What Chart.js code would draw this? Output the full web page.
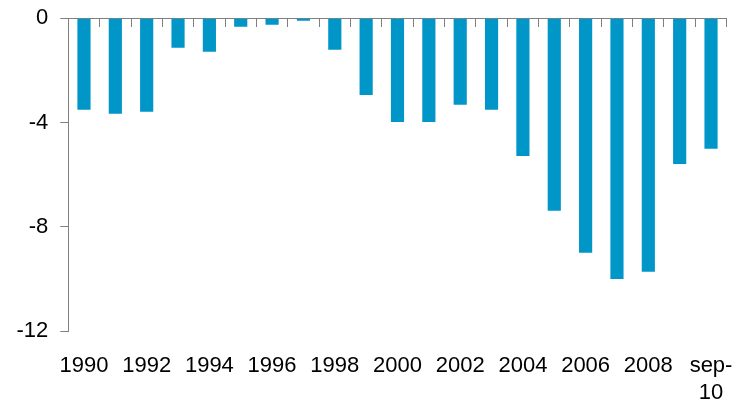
<!DOCTYPE html>
<html>
<head>
<meta charset="utf-8">
<script src="https://cdn.jsdelivr.net/npm/chart.js@4/dist/chart.umd.min.js"></script>
<style>
  html, body { margin: 0; padding: 0; background: #ffffff; }
  #wrap { width: 738px; height: 407px; }
</style>
</head>
<body>
<div id="wrap"><canvas id="c"></canvas></div>
<script>
// Yearly balance, 1990 to September 2010
const categories = ['1990','1991','1992','1993','1994','1995','1996','1997','1998','1999',
                    '2000','2001','2002','2003','2004','2005','2006','2007','2008','2009','sep-10'];
const values = [-3.51, -3.66, -3.59, -1.13, -1.28, -0.32, -0.25, -0.09, -1.21, -2.94,
                -3.98, -3.98, -3.32, -3.51, -5.28, -7.39, -9.00, -10.0, -9.73, -5.59, -5.01];
// Only every second year is labelled; the last period is split over two lines
const xTickLabels = ['1990','','1992','','1994','','1996','','1998','',
                     '2000','','2002','','2004','','2006','','2008','',['sep-','10']];
const yMin = -12;
const yMax = 0;
const yStep = 4;

const axisGrey = '#808080';
const barBlue = '#0096c8';
const labelFont = { family: "'Liberation Sans', Arial, sans-serif", size: 22, lineHeight: 1.2 };

new Chart(document.getElementById('c'), {
  type: 'bar',
  data: {
    labels: categories,
    datasets: [{
      data: values,
      backgroundColor: barBlue,
      borderWidth: 0,
      barPercentage: 0.42,
      categoryPercentage: 1.0,
      xAxisID: 'x',
      yAxisID: 'y'
    }]
  },
  options: {
    responsive: true,
    maintainAspectRatio: false,
    animation: false,
    layout: { padding: { top: 18.3, right: 11.3, bottom: 0, left: 4.5 } },
    plugins: { legend: { display: false }, tooltip: { enabled: false } },
    scales: {
      // category labels along the bottom
      x: {
        type: 'category',
        position: 'bottom',
        offset: true,
        grid: { display: false, drawTicks: false },
        border: { display: false },
        ticks: {
          autoSkip: false,
          maxRotation: 0,
          minRotation: 0,
          padding: 22,
          color: '#000000',
          font: labelFont,
          callback: (v, i) => xTickLabels[i]
        },
        afterFit: (scale) => {
          scale.height = 76;
          scale.paddingLeft = 0;
          scale.paddingRight = 0;
        }
      },
      // zero line with its category tick marks
      x0: {
        type: 'category',
        labels: categories,
        position: { y: 0 },
        offset: true,
        z: 1,
        grid: {
          offset: true,
          drawOnChartArea: false,
          drawTicks: true,
          tickLength: 8,
          color: axisGrey,
          lineWidth: 1
        },
        border: { display: true, color: axisGrey, width: 1 },
        ticks: { display: false }
      },
      y: {
        min: yMin,
        max: yMax,
        position: 'left',
        grid: {
          drawOnChartArea: false,
          drawTicks: true,
          tickLength: 8,
          color: axisGrey
        },
        border: { display: true, color: axisGrey, width: 1 },
        ticks: {
          stepSize: yStep,
          padding: 12,
          color: '#000000',
          font: labelFont
        },
        afterFit: (scale) => {
          scale.paddingTop = 0;
          scale.paddingBottom = 0;
        }
      }
    }
  }
});
</script>
</body>
</html>
